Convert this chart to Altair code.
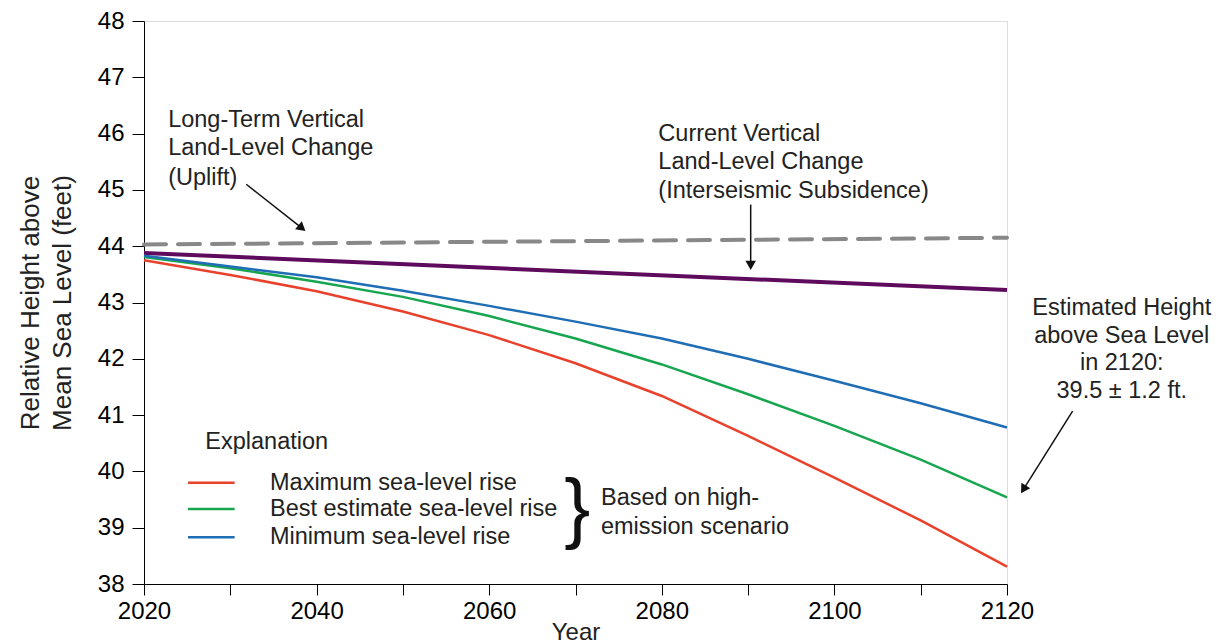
import altair as alt
import pandas as pd

years = [2020, 2030, 2040, 2050, 2060, 2070, 2080, 2090, 2100, 2110, 2120]
max_rise = [43.75, 43.49, 43.20, 42.84, 42.42, 41.92, 41.34, 40.63, 39.89, 39.13, 38.31]
best_rise = [43.81, 43.61, 43.37, 43.10, 42.76, 42.36, 41.90, 41.37, 40.81, 40.21, 39.54]
min_rise = [43.83, 43.64, 43.45, 43.21, 42.94, 42.66, 42.36, 42.00, 41.61, 41.21, 40.78]
sub_years = [2020, 2120]
subsidence = [43.88, 43.22]
uplift_years = [2020, 2120]
uplift = [44.03, 44.15]

series_names = ["Maximum sea-level rise", "Best estimate sea-level rise", "Minimum sea-level rise"]
series_colors = ["#e8412c", "#17a64f", "#1f6db5"]

FONT = "Liberation Sans"
FS = 23.5

rows = []
for name, vals in zip(series_names, [max_rise, best_rise, min_rise]):
    for yr, v in zip(years, vals):
        rows.append({"year": yr, "value": v, "series": name})
slr = pd.DataFrame(rows)
sub_df = pd.DataFrame({"year": sub_years, "value": subsidence})
up_df = pd.DataFrame({"year": uplift_years, "value": uplift})

xscale = alt.Scale(domain=[2020, 2120], nice=False, zero=False)
yscale = alt.Scale(domain=[38, 48], nice=False, zero=False)

x_ax = alt.Axis(values=list(range(2020, 2121, 10)),
                labelExpr="datum.value % 20 == 0 ? datum.label : ''",
                format="d", title="Year", grid=False, tickSize=11,
                labelFontSize=24, titleFontSize=24, titleFontWeight="normal",
                labelPadding=4, titlePadding=-3, labelFlush=False,
                domainColor="black", tickColor="black", labelColor="black", titleColor="#222")
y_ax = alt.Axis(values=[38 + 0.5 * i for i in range(21)],
                labelExpr="datum.value % 1 == 0 ? datum.label : ''",
                format="d",
                title=["Relative Height above", "Mean Sea Level (feet)"],
                grid=False, tickSize=12, labelFontSize=24, titleFontSize=26,
                titleFontWeight="normal", labelPadding=8, titlePadding=22,
                titleLineHeight=32,
                domainColor="black", tickColor="black", labelColor="black", titleColor="#222")

base_x = alt.X("year:Q", scale=xscale, axis=x_ax)
base_y = alt.Y("value:Q", scale=yscale, axis=y_ax)

lines = alt.Chart(slr).mark_line(strokeWidth=2.5).encode(
    x=base_x, y=base_y,
    color=alt.Color("series:N", scale=alt.Scale(domain=series_names, range=series_colors), legend=None),
    detail="series:N",
)
sub_line = alt.Chart(sub_df).mark_line(color="#5e0b5e", strokeWidth=4).encode(
    x="year:Q", y="value:Q")
up_line = alt.Chart(up_df).mark_line(color="#888888", strokeWidth=4, strokeDash=[22, 12],
                                      strokeCap="round").encode(x="year:Q", y="value:Q")

# Text annotations (data coordinates)
ann_text = ["Long-Term Vertical", "Land-Level Change", "(Uplift)",
            "Current Vertical", "Land-Level Change", "(Interseismic Subsidence)"]
ann_x = [2022.8, 2022.8, 2022.8, 2079.6, 2079.6, 2079.6]
ann_y = [46.25, 45.74, 45.22, 46.0, 45.49, 44.98]
ann_df = pd.DataFrame({"x": ann_x, "y": ann_y, "t": ann_text})
ann = alt.Chart(ann_df).mark_text(align="left", baseline="middle", fontSize=FS, font=FONT,
                                  color="#222").encode(x="x:Q", y="y:Q", text="t:N")

right_text = ["Estimated Height", "above Sea Level", "in 2120:", "39.5 \u00b1 1.2 ft."]
right_y = [42.90, 42.40, 41.92, 41.43]
right_df = pd.DataFrame({"x": [2133.3] * 4, "y": right_y, "t": right_text})
right_ann = alt.Chart(right_df).mark_text(align="center", baseline="middle", fontSize=FS,
                                          font=FONT, color="#222", clip=False).encode(
    x="x:Q", y="y:Q", text="t:N")

# Arrows
arr_df = pd.DataFrame({
    "x": [2031.85, 2090.3, 2127.6],
    "y": [45.1, 44.74, 41.07],
    "x2": [2038.3, 2090.3, 2121.9],
    "y2": [44.32, 43.66, 39.68],
    "ang": [39.6, 90.0, 122.0],
})
arr_rule = alt.Chart(arr_df).mark_rule(color="#111", strokeWidth=1.5, clip=False).encode(
    x="x:Q", y="y:Q", x2="x2:Q", y2="y2:Q")
arr_head = alt.Chart(arr_df).mark_point(shape="triangle-right", filled=True, color="#111",
                                        size=110, opacity=1, clip=False).encode(
    x="x2:Q", y="y2:Q", angle=alt.Angle("ang:Q", scale=None))

# Custom legend
leg_y = [39.80, 39.33, 38.83]
leg_df = pd.DataFrame({"series": series_names, "y": leg_y,
                       "x1": [2025.1] * 3, "x2": [2030.5] * 3, "tx": [2034.6] * 3})
leg_lines = alt.Chart(leg_df).mark_rule(strokeWidth=2.5).encode(
    x="x1:Q", x2="x2:Q", y="y:Q",
    color=alt.Color("series:N", scale=alt.Scale(domain=series_names, range=series_colors), legend=None))
leg_text = alt.Chart(leg_df).mark_text(align="left", baseline="middle", fontSize=FS, font=FONT,
                                       color="#222").encode(x="tx:Q", y="y:Q", text="series:N")
misc_df = pd.DataFrame({
    "x": [2027.1, 2072.95, 2072.95],
    "y": [40.53, 39.52, 39.02],
    "t": ["Explanation", "Based on high-", "emission scenario"],
})
misc_text = alt.Chart(misc_df).mark_text(align="left", baseline="middle", fontSize=FS, font=FONT,
                                         color="#222").encode(x="x:Q", y="y:Q", text="t:N")
brace_df = pd.DataFrame({"x": [2070.2], "y": [39.29], "t": ["}"]})
brace = alt.Chart(brace_df).mark_text(align="center", baseline="middle", fontSize=78,
                                      font=FONT, color="#111").encode(x="x:Q", y="y:Q", text="t:N")

chart = alt.layer(
    up_line, sub_line, lines, ann, right_ann, arr_rule, arr_head,
    leg_lines, leg_text, misc_text, brace,
).properties(
    width=863, height=563,
    autosize=alt.AutoSizeParams(type="none"),
    padding={"left": 136, "top": 13, "right": 210, "bottom": 60},
).configure_view(stroke="black", strokeWidth=1.2).configure(font=FONT)

chart.save("out.html", embed_options={"renderer": "svg", "actions": False})
